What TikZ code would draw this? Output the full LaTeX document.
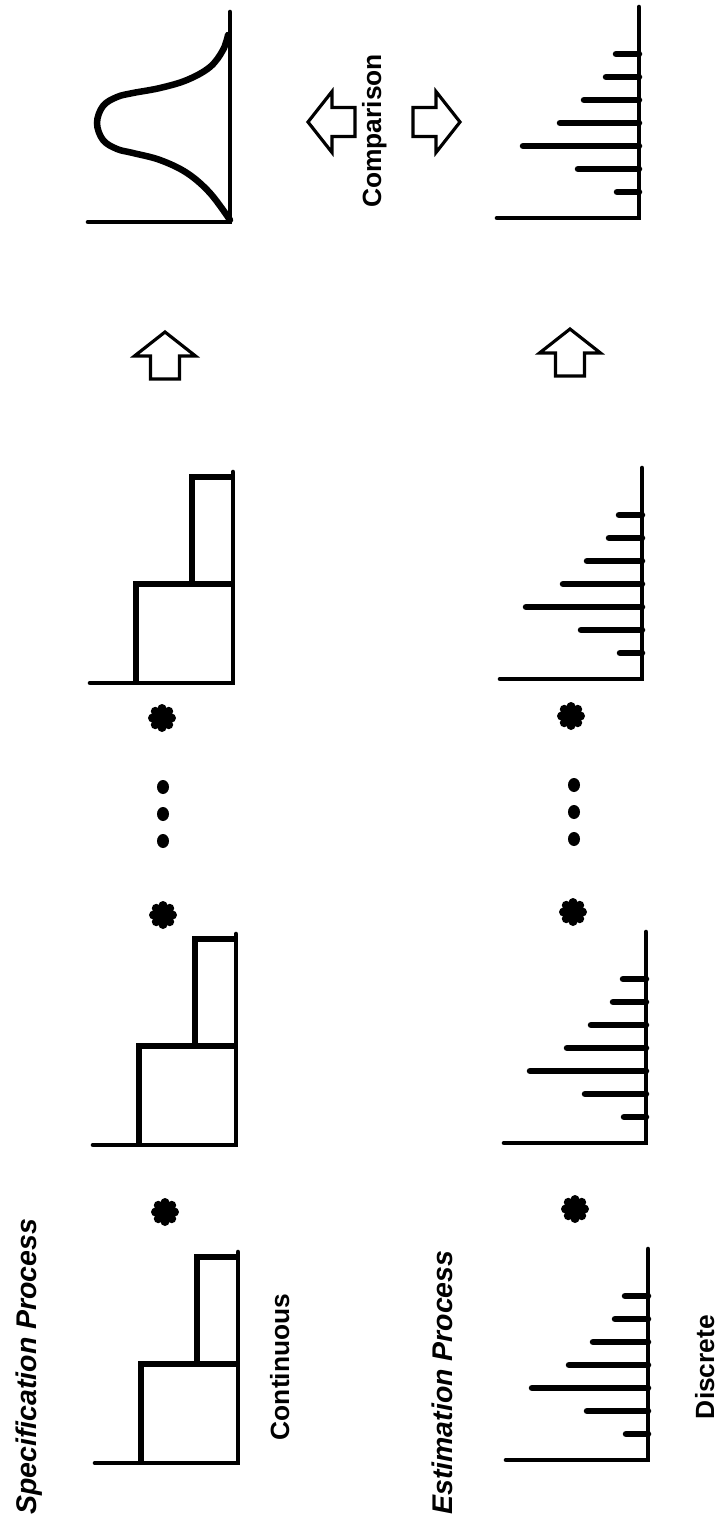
\documentclass[tikz,border=0pt]{standalone}
\usepackage{fontspec}
\setmainfont{Liberation Sans}
\usepackage{tikz}

% small drawings that come back several times
\tikzset{
  stephist/.pic={
    \draw[axisline] (-143,0) -- (0,0) -- (0,-211);
    \draw[histline] (-97,0) -- (-97,-99) -- (0,-99);
    \draw[histline] (-41,-99) -- (-41,-206) -- (0,-206);
  },
  barhist/.pic={
    \draw[axisline] (-142,0) -- (0,0) -- (0,-211);
    \foreach \dy/\len in {26/22, 49/61, 72/116, 95/79, 118/55, 141/33, 164/23}
      \draw[barline] (0,-\dy) -- (-\len,-\dy);
  },
  flower/.pic={
    \fill (0,0) circle[radius=8];
    \foreach \a in {0,45,...,315}
      \fill (\a:9.5) circle[radius=4.5];
  },
  bigarrow/.pic={
    \draw[arrowline] (0,-14.5) -- (23,-14.5) -- (23,-30.5) -- (47,0)
      -- (23,30.5) -- (23,14.5) -- (0,14.5) -- cycle;
  }
}

\begin{document}
\begin{tikzpicture}[x=0.02cm, y=-0.02cm]

      \tikzstyle{histline}=[line width=3.7pt, line join=miter];
      \tikzstyle{axisline}=[line width=2.6pt, line cap=round];
      \tikzstyle{barline}=[line width=3.7pt, line cap=round];
      \tikzstyle{arrowline}=[line width=1.8pt, fill=white, line join=miter];
      \tikzstyle{title}=[rotate=90, inner sep=0pt,
                       font=\fontsize{16.2}{19}\selectfont\bfseries\itshape];
      \tikzstyle{txt}=[rotate=90, inner sep=0pt,
                       font=\fontsize{15}{18}\selectfont\bfseries];

      \useasboundingbox (0,0) rectangle (720,1528);

        % specification process
        \node[title, anchor=base west](SpecLabel) at (36,1515)
          {Specification Process};
        \node[txt, anchor=base](ContLabel) at (289,1367) {Continuous};

        \pic (SpecA) at (238,1463) {stephist};
        \pic (SpecStarA) at (165,1212) {flower};
        \pic (SpecB) at (236,1145) {stephist};
        \pic (SpecStarB) at (163,915) {flower};
        \foreach \y in {787,814,841}
          \fill (163,\y) ellipse[x radius=6, y radius=7];
        \pic (SpecStarC) at (162,718) {flower};
        \pic (SpecC) at (233,683) {stephist};
        \pic[rotate=90] (SpecUp) at (165,379) {bigarrow};

        % the normal curve
        \draw[axisline] (88,222) -- (230,222) -- (230,12);
        \draw[line width=3.7pt, line cap=round] plot[smooth, tension=0.6]
          coordinates {(230,220) (210,193) (187,173) (160,160) (133,153)
                       (117,149) (103,140) (97,123) (103,106) (117,97)
                       (133,93) (160,88) (187,80) (210,67) (223,50) (228,35)};

        % comparison
        \pic[rotate=180] (CompLeft) at (355,122) {bigarrow};
        \node[txt, anchor=base](CompLabel) at (381,131) {Comparison};
        \pic (CompRight) at (413,122) {bigarrow};

        % estimation process
        \node[title, anchor=base west](EstLabel) at (452,1515)
          {Estimation Process};
        \node[txt, anchor=base](DiscLabel) at (714,1367) {Discrete};

        \pic (EstA) at (648,1460) {barhist};
        \pic (EstStarA) at (575,1209) {flower};
        \pic (EstB) at (646,1143) {barhist};
        \pic (EstStarB) at (573,912) {flower};
        \foreach \y in {785,812,839}
          \fill (574,\y) ellipse[x radius=6, y radius=7];
        \pic (EstStarC) at (571,716) {flower};
        \pic (EstC) at (642,679) {barhist};
        \pic[rotate=90] (EstUp) at (570,376) {bigarrow};
        \pic (EstD) at (639,218) {barhist};

    \end{tikzpicture}
\end{document}
